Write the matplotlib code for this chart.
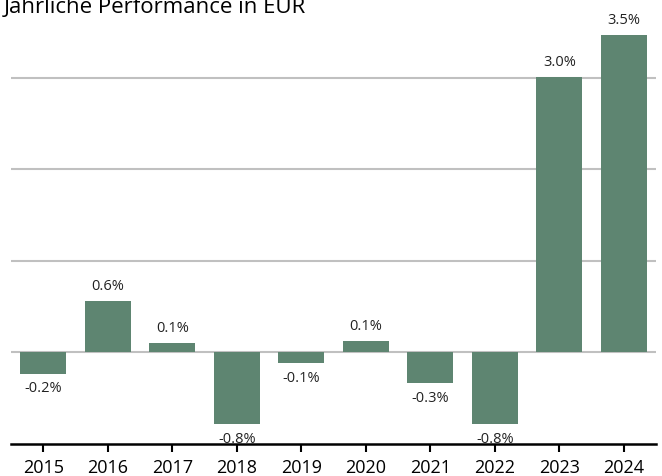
import matplotlib.pyplot as plt
import numpy as np

plt.rcParams['font.family'] = ['Open Sans', 'DejaVu Sans']

years = ['2015', '2016', '2017', '2018', '2019', '2020', '2021', '2022', '2023', '2024']
perf = [-0.23, 0.56, 0.10, -0.78, -0.12, 0.12, -0.33, -0.78, 3.01, 3.47]
labels = ['-0.2%', '0.6%', '0.1%', '-0.8%', '-0.1%', '0.1%', '-0.3%', '-0.8%', '3.0%', '3.5%']

green = '#5e8571'

fig = plt.figure(figsize=(6.62, 4.77), dpi=100)
ax = fig.add_axes([11/662, 1-445/477, (656-11)/662, (445-24)/477])

x = np.arange(len(years))
bars = ax.bar(x, perf, width=0.71, color=green, zorder=3)

for xi, v, lab in zip(x, perf, labels):
    if v >= 0:
        ax.annotate(lab, (xi, v), xytext=(0, 6), textcoords='offset points',
                    ha='center', va='bottom', fontsize=10.5, color='#222222', zorder=4)
    else:
        ax.annotate(lab, (xi, v), xytext=(0, -5), textcoords='offset points',
                    ha='center', va='top', fontsize=10.5, color='#222222', zorder=4)

ax.set_xlim(-0.5, 9.5)
ax.set_ylim(-1.0, 3.6)
ax.set_yticks([0, 1, 2, 3])
ax.yaxis.grid(True, color='#c0c0c0', linewidth=1.5, zorder=1)
ax.tick_params(axis='y', left=False, labelleft=False)
ax.set_xticks(x)
ax.set_xticklabels(years, fontsize=13)
ax.tick_params(axis='x', direction='out', length=6, width=1.5, color='black', pad=4)
for s in ['top', 'right', 'left']:
    ax.spines[s].set_visible(False)
ax.spines['bottom'].set_linewidth(1.8)
ax.spines['bottom'].set_color('black')

# title sits partly above the top edge, as in the reference
fig.text(0.006, 1-13/477, 'Jährliche Performance in EUR', fontsize=16,
         ha='left', va='baseline', color='black')

fig.savefig('out.png', dpi=100)
